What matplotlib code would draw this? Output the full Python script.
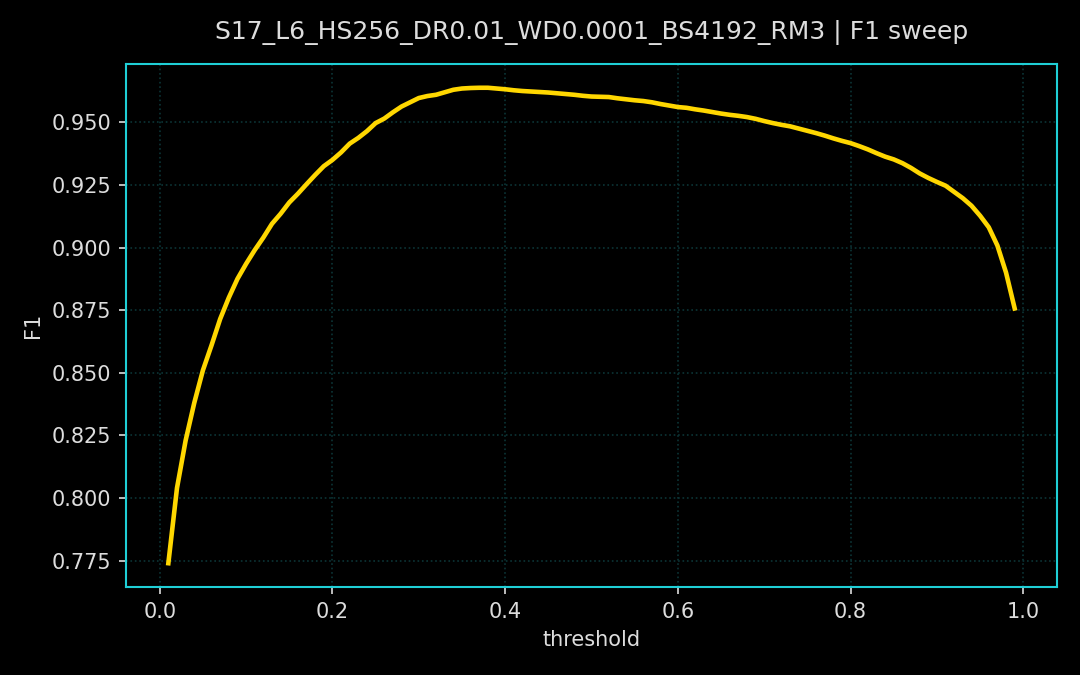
import matplotlib
matplotlib.use("Agg")
import matplotlib.pyplot as plt
import numpy as np

title = "S17_L6_HS256_DR0.01_WD0.0001_BS4192_RM3 | F1 sweep"

thresholds = [round(0.01 * i, 2) for i in range(1, 100)]
f1 = [
    0.7740, 0.8040, 0.8230, 0.8380, 0.8510, 0.8610, 0.8715, 0.8800, 0.8875, 0.8935,
    0.8990, 0.9040, 0.9095, 0.9135, 0.9180, 0.9215, 0.9253, 0.9290, 0.9325, 0.9350,
    0.9380, 0.9415, 0.9438, 0.9465, 0.9497, 0.9515, 0.9540, 0.9563, 0.9580, 0.9597,
    0.9605, 0.9610, 0.9620, 0.9630, 0.9635, 0.9637, 0.9638, 0.9638, 0.9635, 0.9632,
    0.9628, 0.9625, 0.9623, 0.9621, 0.9619, 0.9616, 0.9613, 0.9610, 0.9606, 0.9603,
    0.9602, 0.9601, 0.9596, 0.9592, 0.9588, 0.9585, 0.9580, 0.9573, 0.9567, 0.9561,
    0.9558, 0.9552, 0.9547, 0.9541, 0.9535, 0.9530, 0.9526, 0.9521, 0.9514, 0.9505,
    0.9497, 0.9490, 0.9484, 0.9475, 0.9466, 0.9457, 0.9447, 0.9436, 0.9426, 0.9417,
    0.9405, 0.9392, 0.9377, 0.9363, 0.9352, 0.9337, 0.9318, 0.9296, 0.9278, 0.9262,
    0.9247, 0.9222, 0.9197, 0.9167, 0.9127, 0.9081, 0.9008, 0.8900, 0.8757,
]

text_col = "#dddddd"
spine_col = "#1fcfd6"

fig = plt.figure(figsize=(7.2, 4.5), dpi=150, facecolor="black")
ax = fig.add_axes([0.1167, 0.1304, 0.862, 0.7748], facecolor="black")

ax.plot(thresholds, f1, color="#ffd700", linewidth=2.2)

ax.grid(True, linestyle=":", color="#0c3436", linewidth=0.8)
for s in ax.spines.values():
    s.set_color(spine_col)
    s.set_linewidth(1.0)
ax.tick_params(colors=text_col, labelsize=10)
ax.set_yticks([0.775, 0.8, 0.825, 0.85, 0.875, 0.9, 0.925, 0.95])
ax.set_yticklabels(["0.775", "0.800", "0.825", "0.850", "0.875", "0.900", "0.925", "0.950"])

ax.set_xlabel("threshold", color=text_col, fontsize=10)
ax.set_ylabel("F1", color=text_col, fontsize=10)
ax.set_title(title, color=text_col, fontsize=12, pad=12)

fig.savefig("out.png", dpi=150, facecolor="black")
